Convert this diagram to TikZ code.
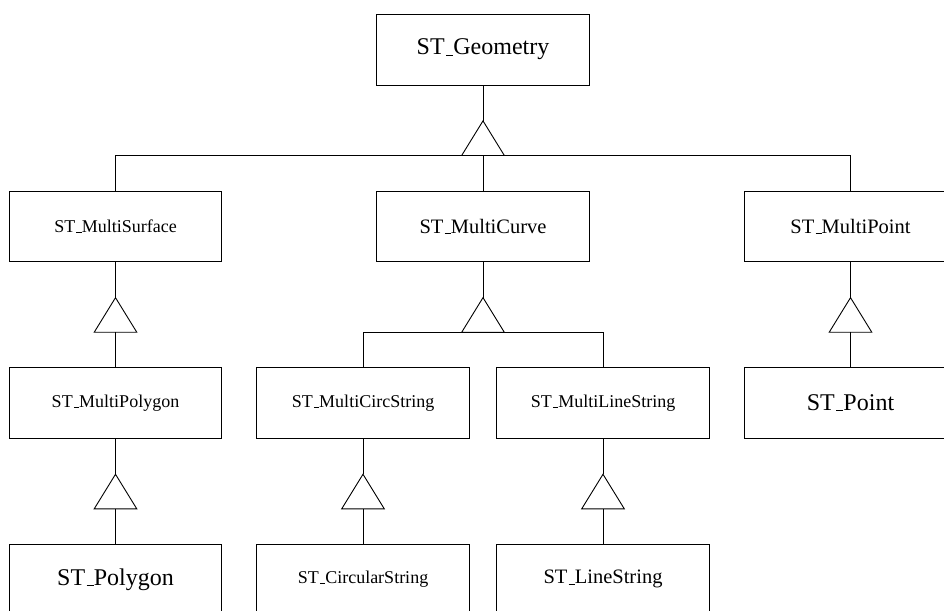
\documentclass[tikz,border=0pt]{standalone}
\usepackage{fontspec}
\setmainfont{Liberation Serif}
\newcommand{\stus}{\leavevmode\kern.06em\vbox{\hrule width.3em}}
\tikzset{
  cls/.style={draw, line width=0.9pt, minimum width=212.4pt,
    minimum height=70.8pt, inner sep=0pt},
  big/.style={font=\fontsize{24}{28}\selectfont},
  mid/.style={font=\fontsize{20.5}{24}\selectfont},
  small/.style={font=\fontsize{18}{22}\selectfont},
  link/.style={line width=0.9pt},
}
%% stem + open triangle below a parent; #2 = middle of the base
\newcommand{\genarrow}[2]{%
  \draw[link] (#1.south) -- ++(0,35.4) coordinate (#2top);
  \draw[link] (#2top) -- ++(21.3,34.6) -- ++(-42.6,0) -- cycle;
  \path (#2top) ++(0,34.6) coordinate (#2);}
\begin{document}
\begin{tikzpicture}[x=1pt,y=-1pt]
        \clip (0,0) rectangle (944,610);
        \useasboundingbox (0,0) rectangle (944,610);
        %% Root
        \node[cls,big] (geo) at (483,49.6) {ST\stus Geometry};
        %% Second row
        \node[cls,small] (msurf) at (115.5,226.4) {ST\stus MultiSurface};
        \node[cls,mid] (mcurve) at (483,226.4) {ST\stus MultiCurve};
        \node[cls,mid] (mpoint) at (850.5,226.4) {ST\stus MultiPoint};
        %% Third row
        \node[cls,small] (mpoly) at (115.5,403) {ST\stus MultiPolygon};
        \node[cls,small] (mcirc) at (363,403) {ST\stus MultiCircString};
        \node[cls,small] (mline) at (603,403) {ST\stus MultiLineString};
        \node[cls,big] (point) at (850.5,403) {ST\stus Point};
        %% Bottom row
        \node[cls,big] (poly) at (115.5,579.4) {ST\stus Polygon};
        \node[cls,small] (circ) at (363,579.4) {ST\stus CircularString};
        \node[cls,mid] (lstr) at (603,579.4) {ST\stus LineString};
        %% Generalisations
        \genarrow{geo}{gb}
        \draw[link] (gb) -| (msurf.north);
        \draw[link] (gb) -- (mcurve.north);
        \draw[link] (gb) -| (mpoint.north);
        \genarrow{msurf}{sb}
        \draw[link] (sb) -- (mpoly.north);
        \genarrow{mpoly}{pb}
        \draw[link] (pb) -- (poly.north);
        \genarrow{mcurve}{cb}
        \draw[link] (cb) -| (mcirc.north);
        \draw[link] (cb) -| (mline.north);
        \genarrow{mcirc}{ccb}
        \draw[link] (ccb) -- (circ.north);
        \genarrow{mline}{lb}
        \draw[link] (lb) -- (lstr.north);
        \genarrow{mpoint}{mpb}
        \draw[link] (mpb) -- (point.north);
    \end{tikzpicture}
\end{document}
